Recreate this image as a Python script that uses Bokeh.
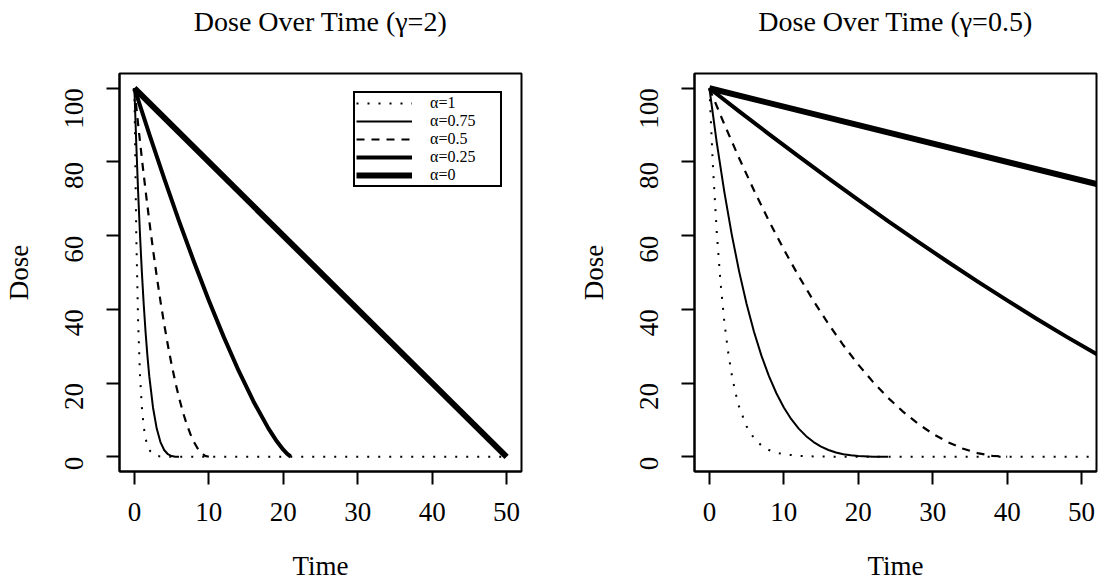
import math
from bokeh.plotting import figure
from bokeh.models import FixedTicker, Legend, LegendItem, Range1d, Title
from bokeh.layouts import row
from bokeh.embed import file_html
from bokeh.resources import INLINE

FONT = "Liberation Serif"

# ---------------- data ----------------
x_ticks = [0, 10, 20, 30, 40, 50]
y_ticks = [0, 20, 40, 60, 80, 100]
alpha_labels = ["α=1", "α=0.75", "α=0.5", "α=0.25", "α=0"]

# Left panel, gamma = 2
left_title = "Dose Over Time (γ=2)"
L_t_a1 = [0, 0.25, 0.5, 0.75, 1, 1.25, 1.5, 1.75, 2, 2.5, 3, 3.5, 4, 5, 6, 50]
L_d_a1 = [100, 60.65, 36.79, 22.31, 13.53, 8.21, 4.98, 3.02, 1.83, 0.67, 0.25, 0.09, 0.03, 0.005, 0.001, 0]
L_t_a075 = [0, 0.25, 0.5, 0.75, 1, 1.25, 1.5, 1.75, 2, 2.5, 3, 3.5, 4, 4.5, 5, 5.5, 6]
L_d_a075 = [100, 85.10, 71.94, 60.36, 50.24, 41.45, 33.86, 27.37, 21.86, 13.37, 7.64, 3.98, 1.83, 0.69, 0.19, 0.03, 0.001]
L_t_a05 = [0, 0.5, 1, 1.5, 2, 2.5, 3, 3.5, 4, 4.5, 5, 5.5, 6, 6.5, 7, 7.5, 8, 8.5, 9, 9.5, 10]
L_d_a05 = [100, 90.25, 81, 72.25, 64, 56.25, 49, 42.25, 36, 30.25, 25, 20.25, 16, 12.25, 9, 6.25, 4, 2.25, 1, 0.25, 0]
L_t_a025 = [0, 2, 4, 6, 8, 10, 12, 14, 16, 18, 19, 20, 20.5, 21]
L_d_a025 = [100, 87.55, 75.53, 63.96, 52.92, 42.42, 32.53, 23.35, 15.00, 7.70, 4.57, 1.91, 0.83, 0.06]
L_t_a0 = [0, 50]
L_d_a0 = [100, 0]

# Right panel, gamma = 0.5
right_title = "Dose Over Time (γ=0.5)"
R_t_a1 = [0, 0.5, 1, 1.5, 2, 2.5, 3, 3.5, 4, 5, 6, 7, 8, 9, 10, 12, 14, 16, 20, 25, 60]
R_d_a1 = [100, 77.88, 60.65, 47.24, 36.79, 28.65, 22.31, 17.38, 13.53, 8.21, 4.98, 3.02, 1.83, 1.11, 0.67, 0.25, 0.09, 0.03, 0.005, 0, 0]
R_t_a075 = [0, 1, 2, 3, 4, 5, 6, 7, 8, 9, 10, 11, 12, 13, 14, 15, 16, 17, 18, 19, 20, 22, 24]
R_d_a075 = [100, 85.10, 71.94, 60.36, 50.24, 41.45, 33.86, 27.37, 21.86, 17.23, 13.37, 10.20, 7.64, 5.59, 3.98, 2.75, 1.83, 1.16, 0.69, 0.38, 0.19, 0.03, 0.001]
R_t_a05 = [0, 2, 4, 6, 8, 10, 12, 14, 16, 18, 20, 22, 24, 26, 28, 30, 32, 34, 36, 38, 40]
R_d_a05 = [100, 90.25, 81, 72.25, 64, 56.25, 49, 42.25, 36, 30.25, 25, 20.25, 16, 12.25, 9, 6.25, 4, 2.25, 1, 0.25, 0]
R_t_a025 = [0, 4, 8, 12, 16, 20, 24, 28, 32, 36, 40, 44, 48, 52, 56, 60]
R_d_a025 = [100, 93.72, 87.55, 81.50, 75.53, 69.71, 63.96, 58.39, 52.92, 47.60, 42.42, 37.40, 32.53, 27.85, 23.35, 19.06]
R_t_a0 = [0, 60]
R_d_a0 = [100, 70]

# ---------------- styles ----------------
STYLES = [
    dict(line_width=2, line_dash="2 9"),
    dict(line_width=2, line_dash="solid"),
    dict(line_width=2.2, line_dash="8 7"),
    dict(line_width=4, line_dash="solid"),
    dict(line_width=6, line_dash="solid"),
]


def make_panel(title, series, left_border, right_border, legend=False):
    p = figure(width=551, height=585, output_backend="svg", toolbar_location=None,
               title=None,
               x_range=Range1d(-2, 52), y_range=Range1d(-4, 104),
               min_border_left=left_border, min_border_right=right_border,
               min_border_top=73, min_border_bottom=114,
               background_fill_color="white", border_fill_color="white")
    # spacer between frame and title (nearest to the frame)
    p.add_layout(Title(text=" ", text_font=FONT, text_font_size="26px",
                       text_color="white", standoff=4), "above")
    # the visible title (outermost)
    p.add_layout(Title(text=title, text_font=FONT, text_font_size="28px",
                       text_font_style="normal", text_color="black",
                       align="center", vertical_align="middle", standoff=2), "above")
    p.xgrid.visible = False
    p.ygrid.visible = False
    p.outline_line_color = "black"
    p.outline_line_width = 2
    p.outline_line_alpha = 1

    for ax in (p.xaxis[0], p.yaxis[0]):
        ax.axis_line_color = "black"
        ax.axis_line_width = 2
        ax.major_tick_line_color = "black"
        ax.major_tick_line_width = 2
        ax.major_tick_out = 13
        ax.major_tick_in = 0
        ax.minor_tick_line_color = None
        ax.major_label_text_font = FONT
        ax.major_label_text_font_size = "27px"
        ax.major_label_text_color = "black"
        ax.axis_label_text_font = FONT
        ax.axis_label_text_font_size = "27px"
        ax.axis_label_text_font_style = "normal"
        ax.axis_label_text_color = "black"

    p.xaxis.ticker = FixedTicker(ticks=x_ticks)
    p.yaxis.ticker = FixedTicker(ticks=y_ticks)
    p.xaxis.axis_label = "Time"
    p.yaxis.axis_label = "Dose"
    p.xaxis.major_label_standoff = 18
    p.xaxis.axis_label_standoff = 27
    p.yaxis.major_label_standoff = 32
    p.yaxis.axis_label_standoff = 20
    p.yaxis.major_label_orientation = math.pi / 2

    renderers = []
    for (t, d), st in zip(series, STYLES):
        r = p.line(t, d, line_color="black", line_join="round", **st)
        renderers.append(r)

    if legend:
        items = [LegendItem(label=lab, renderers=[r]) for lab, r in zip(alpha_labels, renderers)]
        lg = Legend(items=items, location=(234, 284),
                    label_text_font=FONT, label_text_font_size="16px",
                    label_text_color="black",
                    glyph_width=56, glyph_height=16, label_height=16,
                    label_width=69, label_standoff=18, spacing=0, padding=1, margin=0,
                    border_line_color="black", border_line_width=2, border_line_alpha=1,
                    background_fill_color="white", background_fill_alpha=1)
        p.add_layout(lg, "center")
    return p


left = make_panel(left_title,
                  [(L_t_a1, L_d_a1), (L_t_a075, L_d_a075), (L_t_a05, L_d_a05),
                   (L_t_a025, L_d_a025), (L_t_a0, L_d_a0)],
                  117, 30, legend=True)
right = make_panel(right_title,
                   [(R_t_a1, R_d_a1), (R_t_a075, R_d_a075), (R_t_a05, R_d_a05),
                    (R_t_a025, R_d_a025), (R_t_a0, R_d_a0)],
                   143, 6)

layout = row(left, right, spacing=0)
open("out.html", "w").write(file_html(layout, INLINE))
